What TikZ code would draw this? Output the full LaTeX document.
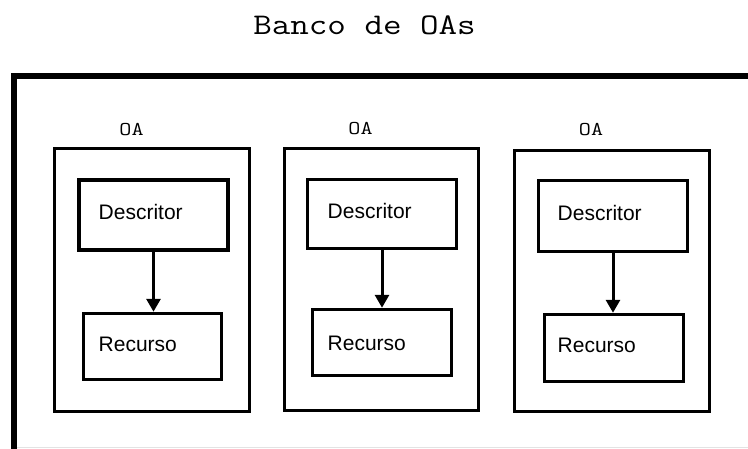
\documentclass[tikz,border=0pt]{standalone}
\usepackage{fontspec}
\setmainfont{Liberation Sans}
\newfontfamily\monofont{Latin Modern Mono}[FakeStretch=1.2]
\usetikzlibrary{arrows.meta}
\begin{document}
\begin{tikzpicture}[x=1pt,y=-1pt,
  oabox/.style={draw, line width=3.2pt, inner sep=0pt},
  partbox/.style={draw, line width=3.5pt, inner sep=0pt},
  parttext/.style={anchor=base west, inner sep=0pt, font=\fontsize{21}{21}\selectfont},
  oalabel/.style={anchor=base, inner sep=0pt, font=\monofont\fontsize{19.5}{19.5}\selectfont},
  link/.style={line width=3pt, -{Triangle[width=14pt,length=13pt]}}]
\useasboundingbox (0,0) rectangle (748,448);
\clip (0,0) rectangle (748,448);
\fill[white] (0,0) rectangle (748,448);
% title
\node[anchor=base, inner sep=0pt, font=\monofont\fontsize{30}{30}\selectfont] (title) at (364.5,34) {Banco de OAs};
% outer frame (continues beyond picture edges)
\draw[line width=6pt] (13.5,470) -- (13.5,76) -- (770,76);
\draw[gray!22, line width=1pt] (17,447.5) -- (748,447.5);
% OA 1
\node[oalabel] (l1) at (131.5,135) {OA};
\node[oabox, minimum width=195pt, minimum height=262.5pt] (oa1) at (152,280) {};
\node[partbox, minimum width=149pt, minimum height=70pt] (d1) at (153.5,215) {};
\node[partbox, minimum width=138pt, minimum height=66pt] (r1) at (152.5,346.5) {};
\node[parttext] (td1) at (98.5,219) {Descritor};
\node[parttext] (tr1) at (98.5,351) {Recurso};
\draw[link] (d1.south) -- (d1.south |- r1.north);
% OA 2
\node[oalabel] (l2) at (360.5,134) {OA};
\node[oabox, minimum width=194pt, minimum height=262pt] (oa2) at (381.5,279.5) {};
\node[partbox, minimum width=149pt, minimum height=69pt] (d2) at (382,214) {};
\node[partbox, minimum width=139pt, minimum height=66pt] (r2) at (382,342.5) {};
\node[parttext] (td2) at (327.5,218) {Descritor};
\node[parttext] (tr2) at (327.5,350) {Recurso};
\draw[link] (d2.south) -- (d2.south |- r2.north);
% OA 3
\node[oalabel] (l3) at (591,135) {OA};
\node[oabox, minimum width=195pt, minimum height=261pt] (oa3) at (612,281) {};
\node[partbox, minimum width=149pt, minimum height=71pt] (d3) at (613,216) {};
\node[partbox, minimum width=139pt, minimum height=67pt] (r3) at (614,348) {};
\node[parttext] (td3) at (557.5,220) {Descritor};
\node[parttext] (tr3) at (557.5,352) {Recurso};
\draw[link] (d3.south) -- (d3.south |- r3.north);
\end{tikzpicture}
\end{document}
